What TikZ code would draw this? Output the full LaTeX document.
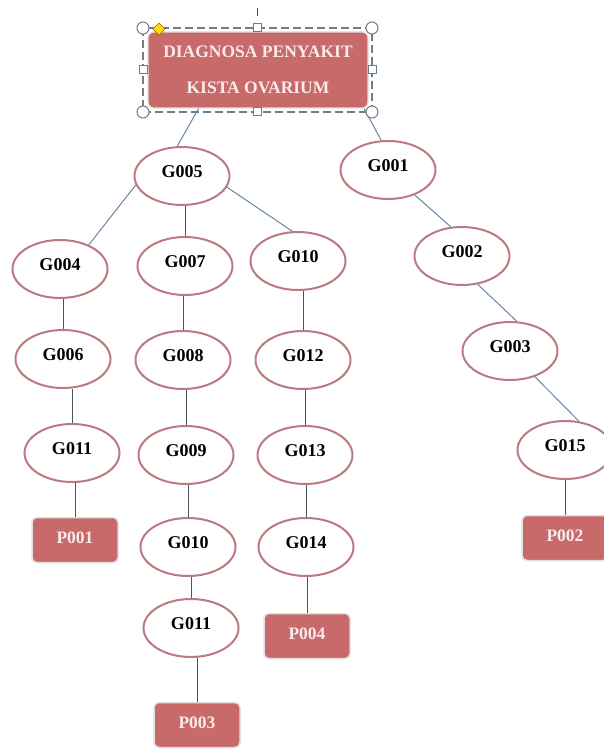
\documentclass[tikz,border=0pt]{standalone}
\usepackage{fontspec}
\setmainfont{Liberation Serif}
\usetikzlibrary{shapes.geometric}
\definecolor{boxred}{RGB}{201,106,106}
\definecolor{ringred}{RGB}{186,122,126}
\definecolor{linkblue}{RGB}{104,134,164}
\definecolor{stemgray}{RGB}{72,82,96}
\definecolor{handlegray}{RGB}{110,125,140}
\definecolor{textpink}{RGB}{250,234,234}
\tikzset{
  rootbox/.style={rectangle, rounded corners=6pt, fill=boxred, draw=black!12, line width=1.2pt,
    minimum width=220pt, minimum height=76pt, inner sep=0pt, align=center, text=textpink,
    font=\fontsize{17.5}{36}\selectfont\bfseries},
  gejala/.style={ellipse, draw=ringred, line width=2pt, fill=white,
    minimum width=95pt, minimum height=58pt, inner sep=0pt, text depth=8pt,
    font=\fontsize{18}{20}\selectfont\bfseries},
  hasil/.style={rectangle, rounded corners=5pt, fill=boxred, draw=black!12, line width=1.5pt,
    minimum width=86pt, minimum height=45pt, inner sep=0pt, text=textpink, text depth=5pt,
    font=\fontsize{17.5}{20}\selectfont\bfseries},
  link/.style={draw=linkblue, line width=1pt},
  stem/.style={draw=stemgray, line width=1pt},
  handle/.style={draw=handlegray, fill=white, line width=1pt}
}
\begin{document}
\begin{tikzpicture}[x=1pt,y=-1pt]
\useasboundingbox (0,0) rectangle (603,751);
\node[rootbox] (root) at (258,70) {DIAGNOSA PENYAKIT\\KISTA OVARIUM};
\node[gejala] (g005) at (182,176) {G005};
\node[gejala] (g001) at (388,170) {G001};
\node[gejala] (g004) at (60,269) {G004};
\node[gejala] (g006) at (63,359) {G006};
\node[gejala] (g011a) at (72,453) {G011};
\node[hasil] (p001) at (75,540) {P001};
\node[gejala] (g007) at (185,266) {G007};
\node[gejala] (g008) at (183,360) {G008};
\node[gejala] (g009) at (186,455) {G009};
\node[gejala] (g010b) at (188,547) {G010};
\node[gejala] (g011b) at (191,628) {G011};
\node[hasil] (p003) at (197,725) {P003};
\node[gejala] (g010a) at (298,261) {G010};
\node[gejala] (g012) at (303,360) {G012};
\node[gejala] (g013) at (305,455) {G013};
\node[gejala] (g014) at (306,547) {G014};
\node[hasil] (p004) at (307,636) {P004};
\node[gejala] (g002) at (462,256) {G002};
\node[gejala] (g003) at (510,351) {G003};
\node[gejala] (g015) at (565,450) {G015};
\node[hasil] (p002) at (565,538) {P002};
\draw[link] (root.213) -- (g005.99);
\draw[link] (root.340) -- (g001.103);
\draw[link] (g005.191) -- (g004.40);
\draw[stem] (g007.north) -- (g007.north |- g005.south);
\draw[link] (g005.346) -- (g010a.101);
\draw[stem] (g006.north) -- (g006.north |- g004.south);
\draw[stem] (g011a.north) -- (g011a.north |- g006.south);
\draw[stem] (p001.north) -- (p001.north |- g011a.south);
\draw[stem] (g008.north) -- (g008.north |- g007.south);
\draw[stem] (g009.north) -- (g009.north |- g008.south);
\draw[stem] (g010b.north) -- (g010b.north |- g009.south);
\draw[stem] (g011b.north) -- (g011b.north |- g010b.south);
\draw[stem] (p003.north) -- (p003.north |- g011b.south);
\draw[stem] (g012.north) -- (g012.north |- g010a.south);
\draw[stem] (g013.north) -- (g013.north |- g012.south);
\draw[stem] (g014.north) -- (g014.north |- g013.south);
\draw[stem] (p004.north) -- (p004.north |- g014.south);
\draw[link] (g001.317) -- (g002.111);
\draw[link] (g002.299) -- (g003.77);
\draw[link] (g003.314) -- (g015.64);
\draw[stem] (p002.north) -- (p002.north |- g015.south);
\draw[handlegray, line width=1.2pt, dash pattern=on 8pt off 4pt] (143,28) rectangle (372,112);
\draw[black!70, line width=1pt] (257,8) -- (257,16);
\foreach \hx/\hy in {143/28, 372/28, 143/112, 372/112}
  \draw[handle] (\hx,\hy) circle (6pt);
\foreach \hx/\hy in {257/28, 257/112, 143/70, 372/70}
  \draw[handle] (\hx-4,\hy-4) rectangle (\hx+4,\hy+4);
\draw[fill=yellow!85!orange, draw=orange!70!black] (159,23) -- (165,29) -- (159,35) -- (153,29) -- cycle;
\end{tikzpicture}
\end{document}
